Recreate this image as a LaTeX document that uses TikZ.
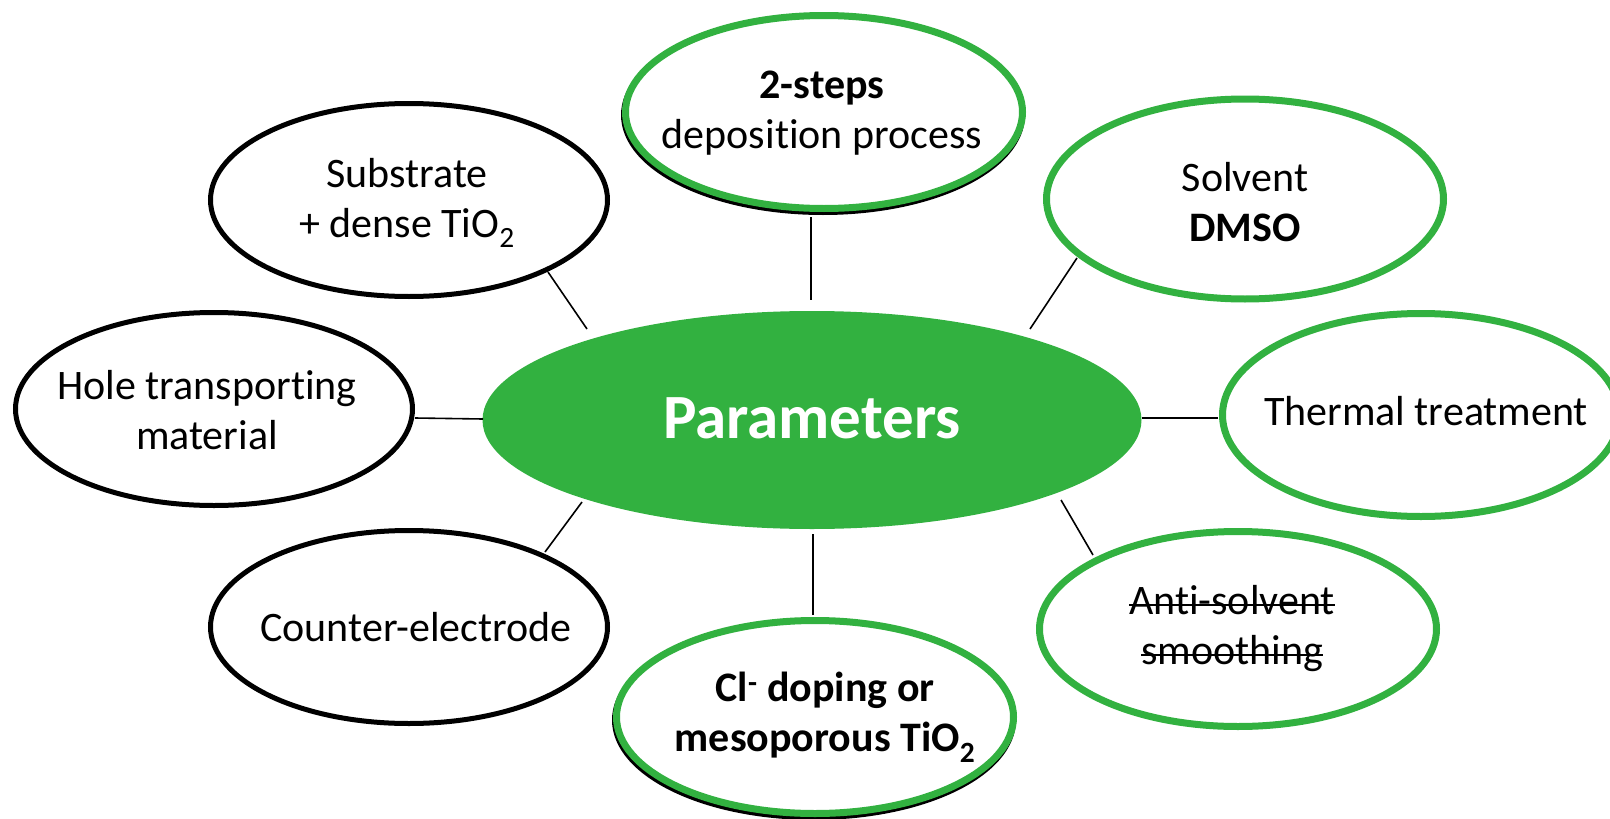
\documentclass[tikz,border=0pt]{standalone}
\usepackage{fontspec}
\setmainfont{Carlito}[Ligatures=NoCommon]
\usetikzlibrary{shapes.geometric,calc}
\definecolor{pgreen}{RGB}{50,177,64}
\newsavebox\mystbox
\newcommand\mystrike[1]{\sbox\mystbox{#1}\rlap{\usebox\mystbox}\rule[9pt]{\wd\mystbox}{2.4pt}}
\begin{document}
\begin{tikzpicture}[x=1pt,y=-1pt,
  bub/.style={ellipse, draw=black, line width=5pt, fill=white, minimum width=397pt, minimum height=193pt, inner sep=0pt},
  gbub/.style={bub, draw=pgreen, line width=7pt},
  gshadow/.style={draw=black, line width=7pt},
  txt/.style={align=center, inner sep=0pt, font=\fontsize{42}{50}\selectfont},
  btxt/.style={txt, font=\bfseries\fontsize{42}{50}\selectfont},
  conn/.style={draw=black, line width=1.6pt},
]
\useasboundingbox (0,0) rectangle (1610,819);

% shadows of two green-outlined bubbles
\draw[gshadow] (823,115) ellipse [x radius=198.5, y radius=96.5];
\draw[gshadow] (814,720) ellipse [x radius=198.5, y radius=96.5];

% centre
\node[ellipse, fill=pgreen, minimum width=659pt, minimum height=218pt, inner sep=0pt] (P) at (812,420) {};
\node[text=white, inner sep=0pt, font=\bfseries\fontsize{63}{70}\selectfont] (tP) at (812,418) {Parameters};

% satellites
\node[gbub] (two) at (824,112) {};
\node[txt] (ttwo) at (822,113) {\textbf{2-steps}\\deposition process};

\node[bub] (sub) at (409,200) {};
\node[txt] (tsub) at (407,203) {Substrate\\+ dense TiO\textsubscript{2}};

\node[gbub, minimum height=200pt] (solv) at (1245,199) {};
\node[txt] (tsolv) at (1245,202) {Solvent\\\textbf{DMSO}};

\node[bub] (hole) at (214,409) {};
\node[txt] (thole) at (207,410) {Hole transporting\\material};

\node[gbub, minimum height=203pt] (therm) at (1421,415) {};
\node[txt] (ttherm) at (1426,411) {Thermal treatment};

\node[bub] (ctr) at (409,627) {};
\node[txt] (tctr) at (416,627) {Counter-electrode};

\node[gbub, minimum height=195pt] (anti) at (1238,629) {};
\node[txt] (tanti) at (1232,629) {\mystrike{Anti-solvent}\\\mystrike{smoothing}};

\node[gbub] (cl) at (815,717) {};
\node[btxt] (tcl) at (825,717) {Cl\textsuperscript{-} doping or\\mesoporous TiO\textsubscript{2}};

% connectors
\draw[conn] ($(sub.center)+(139,72)$) -- ($(P.center)+(-225,-91)$);
\draw[conn] ($(two.center)+(-13,105)$) -- ($(P.center)+(-1,-120)$);
\draw[conn] ($(solv.center)+(-168,59)$) -- ($(P.center)+(218,-91)$);
\draw[conn] ($(hole.center)+(201,9)$) -- ($(P.center)+(-329,-1)$);
\draw[conn] ($(therm.center)+(-203,3)$) -- ($(P.center)+(330,-2)$);
\draw[conn] ($(ctr.center)+(136,-75)$) -- ($(P.center)+(-230,82)$);
\draw[conn] ($(cl.center)+(-2,-102)$) -- ($(P.center)+(1,114)$);
\draw[conn] ($(anti.center)+(-145,-74)$) -- ($(P.center)+(249,80)$);
\end{tikzpicture}
\end{document}
